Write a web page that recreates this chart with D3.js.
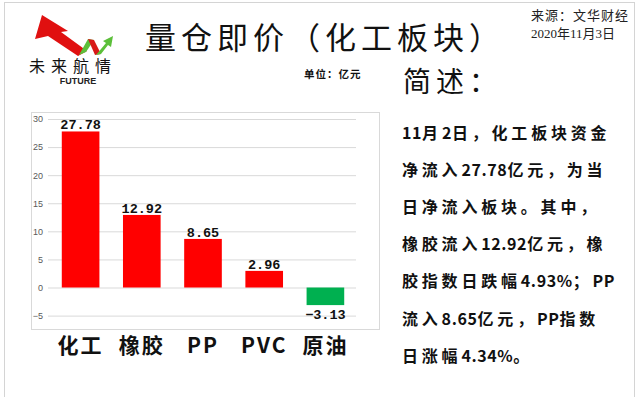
<!DOCTYPE html>
<html>
<head>
<meta charset="utf-8">
<script src="https://cdn.jsdelivr.net/npm/d3@7"></script>
<style>
  body { margin: 0; background: #fff; }
  svg { display: block; }
</style>
</head>
<body>
<div id="chart"></div>
<script>
// data
var categories = ["化工", "橡胶", "PP", "PVC", "原油"];
var values = [27.78, 12.92, 8.65, 2.96, -3.13];
var yTicks = [-5, 0, 5, 10, 15, 20, 25, 30];
var summaryLines = [
  "11月2日，化工板块资金",
  "净流入27.78亿元，为当",
  "日净流入板块。其中，",
  "橡胶流入12.92亿元，橡",
  "胶指数日跌幅4.93%；PP",
  "流入8.65亿元，PP指数",
  "日涨幅4.34%。"
];

var width = 640, height = 397;
var cjk = "'Noto Sans CJK SC', sans-serif";

var svg = d3.select("#chart").append("svg")
  .attr("width", width)
  .attr("height", height);

svg.append("rect")
  .attr("width", width).attr("height", height)
  .attr("fill", "#fff");

// outer frame
svg.append("rect")
  .attr("x", 4.5).attr("y", 2.5)
  .attr("width", 630).attr("height", 400)
  .attr("fill", "none")
  .attr("stroke", "#d4d4d4");

// logo
var logo = svg.append("g");
logo.append("path")
  .attr("d", "M35,39 L42,15 L68,31 L61,32 L87,51 L78,56 L48,36 Z")
  .attr("fill", "#e01010");
logo.append("path")
  .attr("d", "M79,55 L86,52 L94,40 L88,39 Z")
  .attr("fill", "#5cbf3a");
logo.append("path")
  .attr("d", "M88,39 L94,40 L101,54 L95,55 Z")
  .attr("fill", "#d81818");
logo.append("path")
  .attr("d", "M96,55 L101,54 L108,45 L111,47 L113,36 L103,41 L106,43 Z")
  .attr("fill", "#5cbf3a");
logo.append("text")
  .attr("x", 29).attr("y", 65)
  .attr("dominant-baseline", "central")
  .style("font-family", cjk)
  .style("font-size", "16px")
  .style("letter-spacing", "6px")
  .style("fill", "#111")
  .text("未来航情");
logo.append("text")
  .attr("x", 78).attr("y", 81)
  .attr("text-anchor", "middle")
  .attr("dominant-baseline", "central")
  .style("font-family", "'Liberation Sans', Arial, sans-serif")
  .style("font-size", "9px")
  .style("font-weight", "bold")
  .style("fill", "#222")
  .text("FUTURE");

// title
svg.append("text")
  .attr("x", 145).attr("y", 35)
  .attr("dominant-baseline", "central")
  .style("font-family", cjk)
  .style("font-size", "31px")
  .style("letter-spacing", "5px")
  .style("fill", "#111")
  .text("量仓即价（化工板块）");

// source
svg.append("text")
  .attr("x", 531).attr("y", 15)
  .attr("dominant-baseline", "central")
  .style("font-family", "'Liberation Serif', 'Noto Sans CJK SC', serif")
  .style("font-size", "13px")
  .style("letter-spacing", "1px")
  .style("fill", "#222")
  .text("来源：文华财经");
svg.append("text")
  .attr("x", 531).attr("y", 33)
  .attr("dominant-baseline", "central")
  .style("font-family", "'Liberation Serif', 'Noto Sans CJK SC', serif")
  .style("font-size", "13px")
  .style("fill", "#222")
  .text("2020年11月3日");

svg.append("text")
  .attr("x", 304).attr("y", 73)
  .attr("dominant-baseline", "central")
  .style("font-family", cjk)
  .style("font-size", "10.5px")
  .style("font-weight", "bold")
  .style("letter-spacing", "1px")
  .style("fill", "#111")
  .text("单位：亿元");

// chart box
svg.append("rect")
  .attr("x", 31.5).attr("y", 112.5)
  .attr("width", 348).attr("height", 217)
  .attr("fill", "none")
  .attr("stroke", "#d9d9d9");

var x = d3.scaleBand()
  .domain(categories)
  .range([50, 356])
  .paddingInner(0.385)
  .paddingOuter(0.1925);

var y = d3.scaleLinear()
  .domain([-5, 30])
  .range([315.6, 119]);

var yAxis = svg.append("g")
  .attr("transform", "translate(48,0)")
  .call(d3.axisLeft(y).tickValues(yTicks).tickSize(-308).tickPadding(5));
yAxis.select(".domain").remove();
yAxis.selectAll("line").attr("stroke", "#d9d9d9");
yAxis.selectAll("text")
  .style("font-family", "'Liberation Sans', Arial, sans-serif")
  .style("font-size", "9px")
  .style("fill", "#595959");

var data = categories.map(function(c, i) { return {name: c, value: values[i]}; });

svg.append("g")
  .selectAll("rect")
  .data(data)
  .enter()
  .append("rect")
  .attr("x", function(d) { return x(d.name); })
  .attr("width", x.bandwidth())
  .attr("y", function(d) { return y(Math.max(0, d.value)); })
  .attr("height", function(d) { return Math.abs(y(d.value) - y(0)); })
  .attr("fill", function(d) { return d.value >= 0 ? "#ff0000" : "#00b050"; });

svg.append("g")
  .selectAll("text")
  .data(data)
  .enter()
  .append("text")
  .attr("x", function(d) { return x(d.name) + x.bandwidth() / 2; })
  .attr("y", function(d) { return d.value >= 0 ? y(d.value) - 2 : y(d.value) + 14; })
  .attr("text-anchor", "middle")
  .style("font-family", "'Liberation Mono', monospace")
  .style("font-size", "13.5px")
  .style("font-weight", "bold")
  .style("fill", "#111")
  .text(function(d) { return d3.format(".2f")(d.value); });

// category labels
var xAxis = svg.append("g")
  .attr("transform", "translate(0,344)")
  .call(d3.axisBottom(x).tickSize(0).tickPadding(0));
xAxis.select(".domain").remove();
xAxis.selectAll("text")
  .attr("y", 0)
  .attr("dy", null)
  .attr("dominant-baseline", "central")
  .style("font-family", cjk)
  .style("font-size", "21px")
  .style("font-weight", "bold")
  .style("letter-spacing", "2px")
  .style("fill", "#111");

// summary
svg.append("text")
  .attr("x", 403).attr("y", 80)
  .attr("dominant-baseline", "central")
  .style("font-family", cjk)
  .style("font-size", "28px")
  .style("letter-spacing", "5px")
  .style("fill", "#111")
  .text("简述：");

// split each line into latin and CJK runs so latin keeps tight spacing
function runs(s) {
  return s.match(/[\x00-\x7f]+|[^\x00-\x7f]+/g).map(function(t) {
    return {t: t, latin: /^[\x00-\x7f]/.test(t)};
  });
}

svg.append("g")
  .selectAll("text")
  .data(summaryLines)
  .enter()
  .append("text")
  .attr("x", 402)
  .attr("y", function(d, i) { return 131.5 + i * 37.2; })
  .attr("dominant-baseline", "central")
  .style("font-family", cjk)
  .style("font-size", "16px")
  .style("font-weight", "bold")
  .style("fill", "#111")
  .selectAll("tspan")
  .data(function(d) { return runs(d); })
  .enter()
  .append("tspan")
  .style("letter-spacing", function(r) { return r.latin ? "0.6px" : "3.8px"; })
  .text(function(r) { return r.t; });
</script>
</body>
</html>
